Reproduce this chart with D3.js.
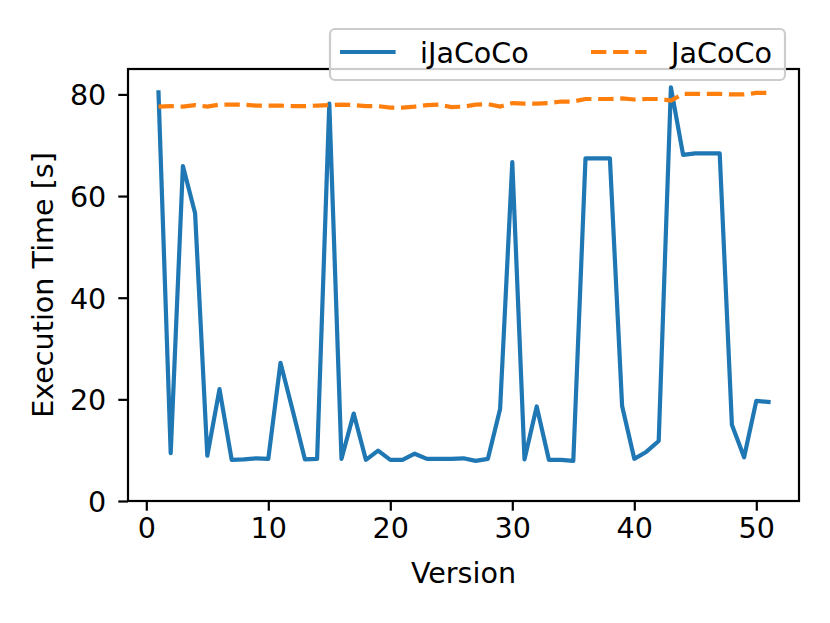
<!DOCTYPE html>
<html>
<head>
<meta charset="utf-8">
<script src="https://cdn.jsdelivr.net/npm/d3@7"></script>
<style>
  body { margin: 0; background: #fff; }
  text { font-family: "DejaVu Sans", sans-serif; }
</style>
</head>
<body>
<div id="chart"></div>
<script>
// versions 1..51
var versions = d3.range(1, 52);

var ijacoco = [80.4, 9.4, 65.9, 56.6, 8.9, 22.0, 8.1, 8.2, 8.4, 8.3,
               27.2, 17.8, 8.2, 8.3, 78.2, 8.3, 17.2, 8.1, 9.9, 8.1,
               8.1, 9.3, 8.3, 8.3, 8.3, 8.4, 7.9, 8.3, 18.1, 66.7,
               8.2, 18.6, 8.1, 8.1, 7.9, 67.4, 67.4, 67.4, 18.7, 8.3,
               9.7, 11.8, 81.4, 68.1, 68.4, 68.4, 68.4, 15.0, 8.6, 19.7,
               19.5];

var jacoco = [77.6, 77.7, 77.6, 77.9, 77.6, 78.0, 78.0, 78.0, 77.8, 77.8,
              77.8, 77.7, 77.7, 77.8, 77.9, 78.0, 77.9, 77.7, 77.7, 77.4,
              77.4, 77.6, 77.9, 78.0, 77.5, 77.6, 78.0, 78.1, 77.6, 78.3,
              78.2, 78.2, 78.3, 78.6, 78.6, 79.1, 79.1, 79.1, 79.2, 79.0,
              79.1, 79.1, 78.8, 80.1, 80.1, 80.1, 80.1, 80.0, 80.0, 80.3,
              80.3];

var xTicks = [0, 10, 20, 30, 40, 50];
var yTicks = [0, 20, 40, 60, 80];

var width = 830, height = 623;
var mLeft = 128, mRight = 799, mTop = 69, mBottom = 501;
var fs = 28.6;

var svg = d3.select("#chart").append("svg")
    .attr("width", width)
    .attr("height", height);

var x = d3.scaleLinear().domain([-1.5, 53.5]).range([mLeft, mRight]);
var y = d3.scaleLinear().domain([0, 85]).range([mBottom, mTop]);

var line = d3.line()
    .x(function(d, i) { return x(versions[i]); })
    .y(function(d) { return y(d); });

svg.append("path")
    .datum(ijacoco)
    .attr("d", line)
    .attr("fill", "none")
    .attr("stroke", "#1f77b4")
    .attr("stroke-width", 4.2)
    .attr("stroke-linejoin", "round")
    .attr("stroke-linecap", "square");

svg.append("path")
    .datum(jacoco)
    .attr("d", line)
    .attr("fill", "none")
    .attr("stroke", "#ff7f0e")
    .attr("stroke-width", 4.2)
    .attr("stroke-dasharray", "15.4,6.7");

// axes
var xAxis = svg.append("g")
    .attr("transform", "translate(0," + mBottom + ")")
    .call(d3.axisBottom(x).tickValues(xTicks).tickSize(9.7).tickPadding(7));
var yAxis = svg.append("g")
    .attr("transform", "translate(" + mLeft + ",0)")
    .call(d3.axisLeft(y).tickValues(yTicks).tickSize(9.7).tickPadding(12));

[xAxis, yAxis].forEach(function(a) {
  a.select(".domain").remove();
  a.selectAll(".tick line").attr("stroke", "#000").attr("stroke-width", 2.2);
  a.selectAll(".tick text").attr("font-size", fs).attr("fill", "#000")
    .style("font-family", "DejaVu Sans");
});
yAxis.selectAll(".tick text").attr("dy", "0.36em");

svg.append("rect")
    .attr("x", mLeft).attr("y", mTop)
    .attr("width", mRight - mLeft).attr("height", mBottom - mTop)
    .attr("fill", "none").attr("stroke", "#000").attr("stroke-width", 2.2);

svg.append("text")
    .attr("x", (mLeft + mRight) / 2).attr("y", 583)
    .attr("text-anchor", "middle").attr("font-size", fs)
    .text("Version");

svg.append("text")
    .attr("transform", "translate(53," + (mTop + mBottom) / 2 + ") rotate(-90)")
    .attr("text-anchor", "middle").attr("font-size", fs)
    .text("Execution Time [s]");

// legend
var lg = svg.append("g");
lg.append("rect")
    .attr("x", 330).attr("y", 29).attr("width", 455).attr("height", 51)
    .attr("rx", 5)
    .attr("fill", "#fff").attr("fill-opacity", 0.8)
    .attr("stroke", "#ccc").attr("stroke-width", 2.2);

var entries = [
  { name: "iJaCoCo", color: "#1f77b4", dash: null, x0: 340 },
  { name: "JaCoCo", color: "#ff7f0e", dash: "15.4,6.7", x0: 591 }
];
entries.forEach(function(e) {
  lg.append("line")
      .attr("x1", e.x0).attr("x2", e.x0 + 55.6)
      .attr("y1", 52).attr("y2", 52)
      .attr("stroke", e.color).attr("stroke-width", 4.2)
      .attr("stroke-dasharray", e.dash);
  lg.append("text")
      .attr("x", e.x0 + 80).attr("y", 63)
      .attr("font-size", fs)
      .text(e.name);
});
</script>
</body>
</html>
